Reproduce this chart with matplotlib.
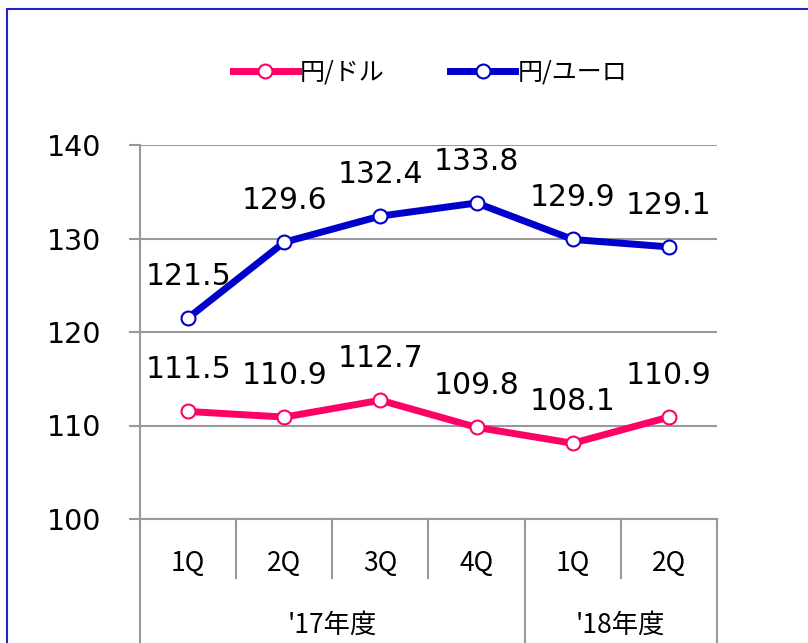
import matplotlib
matplotlib.use("Agg")
import matplotlib.pyplot as plt
from matplotlib.patches import Rectangle
from matplotlib.lines import Line2D

plt.rcParams['font.family'] = ['DejaVu Sans', 'Noto Sans CJK JP']

quarters = ['1Q', '2Q', '3Q', '4Q', '1Q', '2Q']
years = ["'17年度", "'18年度"]
year_spans = [4, 2]
usd = [111.5, 110.9, 112.7, 109.8, 108.1, 110.9]
eur = [121.5, 129.6, 132.4, 133.8, 129.9, 129.1]
series_names = ['円/ドル', '円/ユーロ']
colors = ['#FF0066', '#0000CC']
yticks = [100, 110, 120, 130, 140]

W, H = 808, 643
fig = plt.figure(figsize=(W / 100, H / 100), dpi=100)
ax = fig.add_axes([140 / W, 1 - 519 / H, 577 / W, 374 / H])

x = list(range(len(quarters)))
for vals, col in zip([usd, eur], colors):
    ax.plot(x, vals, color=col, lw=5, marker='o', ms=10, mfc='white',
            mec=col, mew=1.5, zorder=3, solid_joinstyle='round')
    for xi, v in zip(x, vals):
        ax.annotate(f'{v:.1f}', (xi, v), xytext=(0, 30), textcoords='offset points',
                    ha='center', va='center', fontsize=21.5, color='black')

ax.set_xlim(-0.5, len(quarters) - 0.5)
ax.set_ylim(100, 140)
ax.set_yticks(yticks)
ax.grid(axis='y', color='#999999', lw=1.5)
ax.set_axisbelow(True)
for s in ['top', 'right', 'bottom']:
    ax.spines[s].set_visible(False)
ax.spines['left'].set_color('#999999')
ax.spines['left'].set_linewidth(1.5)
ax.tick_params(axis='y', length=8, width=1.5, color='#999999', pad=20, labelsize=20.5)
ax.set_xticks([])

grid_col = '#999999'
tr = ax.get_xaxis_transform()
# horizontal axis line at 100
ax.plot([-0.5, len(quarters) - 0.5], [0, 0], transform=tr, color=grid_col, lw=1.5, clip_on=False)
# quarter separators
boundaries_major = [-0.5]
acc = -0.5
for s in year_spans:
    acc += s
    boundaries_major.append(acc)
for b in range(len(quarters) + 1):
    xb = b - 0.5
    if xb in boundaries_major:
        ax.plot([xb, xb], [0, -0.5], transform=tr, color=grid_col, lw=1.5, clip_on=False)
    else:
        ax.plot([xb, xb], [0, -0.158], transform=tr, color=grid_col, lw=1.5, clip_on=False)
for xi, q in zip(x, quarters):
    ax.text(xi, -0.118, q, transform=tr, ha='center', va='center', fontsize=19,
            family=['Noto Sans CJK JP'])
start = -0.5
for y, s in zip(years, year_spans):
    ax.text(start + s / 2, -0.283, y, transform=tr, ha='center', va='center', fontsize=19,
            family=['Noto Sans CJK JP'])
    start += s

handles = [Line2D([], [], color=c, lw=5, marker='o', ms=10, mfc='white', mec=c, mew=1.5)
           for c in colors]
fig.legend(handles, series_names, loc='center', bbox_to_anchor=(430 / W, 1 - 73 / H),
           ncol=2, frameon=False, handlelength=2.6, handletextpad=0.1, columnspacing=2.6,
           prop={'family': 'Noto Sans CJK JP', 'size': 18})

fig.patches.append(Rectangle((7 / W, -0.1), 1.2, 1 - 9 / H + 0.1, transform=fig.transFigure,
                             fill=False, edgecolor='#2222CC', lw=1.5))

fig.savefig('out.png', dpi=100)
